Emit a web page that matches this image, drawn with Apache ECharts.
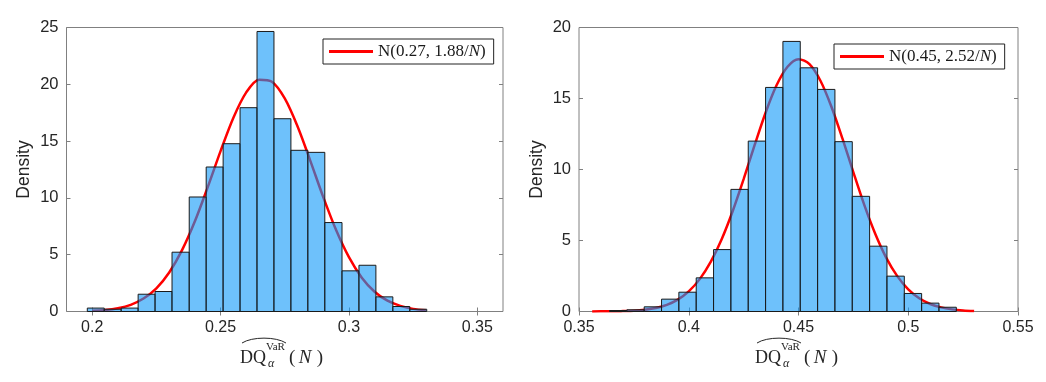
<!DOCTYPE html>
<html>
<head>
<meta charset="utf-8">
<script src="https://cdn.jsdelivr.net/npm/echarts@6/dist/echarts.min.js"></script>
<style>
  html, body { margin: 0; padding: 0; background: #fff; }
  #chart { width: 1046px; height: 382px; }
</style>
</head>
<body>
<div id="chart"></div>
<script>
// ---- left panel: N(0.27, 1.88/N) ----
const leftBinEdges = [0.1981, 0.2047, 0.2113, 0.2179, 0.2245, 0.2311, 0.2378, 0.2444, 0.2510, 0.2576,
  0.2642, 0.2708, 0.2774, 0.2840, 0.2906, 0.2973, 0.3039, 0.3105, 0.3171, 0.3237, 0.3303]
const leftDensity = [0.30, 0.20, 0.30, 1.52, 1.76, 5.22, 10.08, 12.72, 14.77, 17.94,
  24.65, 16.97, 14.19, 14.01, 7.83, 3.58, 4.07, 1.29, 0.44, 0.20]
const leftCurveX = [0.200, 0.205, 0.210, 0.215, 0.220, 0.225, 0.230, 0.235, 0.240, 0.245, 0.250, 0.255, 0.260, 0.265,
  0.270, 0.275, 0.280, 0.285, 0.290, 0.295, 0.300, 0.305, 0.310, 0.315, 0.320, 0.325, 0.330]
const leftCurveY = [0.06, 0.13, 0.29, 0.59, 1.14, 2.04, 3.43, 5.40, 7.94, 10.95, 14.12, 17.06, 19.29, 20.41,
  20.23, 18.76, 16.29, 13.24, 10.07, 7.17, 4.78, 2.98, 1.74, 0.95, 0.49, 0.23, 0.10]
const leftXTicks = [0.2, 0.25, 0.3, 0.35]
const leftName = 'N(0.27, 1.88/N)'

// ---- right panel: N(0.45, 2.52/N) ----
const rightBinEdges = [0.3639, 0.3718, 0.3797, 0.3876, 0.3955, 0.4034, 0.4113, 0.4192, 0.4271, 0.4350,
  0.4429, 0.4508, 0.4587, 0.4666, 0.4745, 0.4824, 0.4903, 0.4982, 0.5061, 0.5140, 0.5219]
const rightDensity = [0.07, 0.12, 0.33, 0.87, 1.36, 2.37, 4.36, 8.60, 12.00, 15.78,
  19.02, 17.16, 15.64, 11.96, 8.11, 4.60, 2.49, 1.27, 0.59, 0.30]
const rightCurveX = [0.356, 0.360, 0.365, 0.370, 0.375, 0.380, 0.385, 0.390, 0.395, 0.400, 0.405, 0.410, 0.415,
  0.420, 0.425, 0.430, 0.435, 0.440, 0.445, 0.450, 0.455, 0.460, 0.465, 0.470, 0.475, 0.480, 0.485, 0.490,
  0.495, 0.500, 0.505, 0.510, 0.515, 0.520, 0.525, 0.530]
const rightCurveY = [0.00, 0.01, 0.01, 0.03, 0.06, 0.13, 0.25, 0.47, 0.84, 1.42, 2.28, 3.49, 5.09,
  7.06, 9.32, 11.71, 14.00, 15.93, 17.24, 17.77, 17.42, 16.25, 14.42, 12.19, 9.80, 7.49, 5.46, 3.78,
  2.49, 1.56, 0.93, 0.53, 0.29, 0.15, 0.07, 0.03]
const rightXTicks = [0.35, 0.4, 0.45, 0.5, 0.55]
const rightName = 'N(0.45, 2.52/N)'

const yTicksLeft = [0, 5, 10, 15, 20, 25]
const yTicksRight = [0, 5, 10, 15, 20]

const boxColor = '#808080'
const textColor = '#262626'
const sansFont = '"Liberation Sans", Arial, sans-serif'
const serifFont = '"Liberation Serif", "Times New Roman", serif'

const chart = echarts.init(document.getElementById('chart'))

function histData(edges, dens) {
  return dens.map((d, i) => [edges[i], edges[i + 1], d])
}

function renderBin(params, api) {
  const p0 = api.coord([api.value(0), api.value(2)])
  const p1 = api.coord([api.value(1), 0])
  return {
    type: 'rect',
    shape: { x: p0[0], y: p0[1], width: p1[0] - p0[0], height: p1[1] - p0[1] },
    style: { fill: 'rgba(13,152,248,0.6)', stroke: '#1a1a1a', lineWidth: 1 },
  }
}

function xAxes(grid, min, max, ticks) {
  return [
    {
      gridIndex: grid, type: 'value', min, max, position: 'bottom',
      axisLine: { show: false }, splitLine: { show: false },
      axisTick: { inside: true, length: 4, lineStyle: { color: boxColor }, customValues: ticks },
      axisLabel: {
        customValues: ticks, margin: 8, fontSize: 16, color: textColor, fontFamily: sansFont,
        formatter: (v) => String(+v.toFixed(2)),
      },
    },
    {
      gridIndex: grid, type: 'value', min, max, position: 'top',
      axisLine: { show: false }, splitLine: { show: false }, axisLabel: { show: false },
      axisTick: { inside: true, length: 4, lineStyle: { color: boxColor }, customValues: ticks },
    },
  ]
}

function yAxes(grid, max, ticks) {
  return [
    {
      gridIndex: grid, type: 'value', min: 0, max, interval: 5, position: 'left',
      name: 'Density', nameLocation: 'middle', nameGap: 33,
      nameTextStyle: { fontSize: 17.5, color: textColor, fontFamily: sansFont },
      axisLine: { show: false }, splitLine: { show: false },
      axisTick: { inside: true, length: 4, lineStyle: { color: boxColor }, customValues: ticks },
      axisLabel: { customValues: ticks, margin: 8, fontSize: 16.5, color: textColor, fontFamily: sansFont },
    },
    {
      gridIndex: grid, type: 'value', min: 0, max, interval: 5, position: 'right',
      axisLine: { show: false }, splitLine: { show: false }, axisLabel: { show: false },
      axisTick: { inside: true, length: 4, lineStyle: { color: boxColor }, customValues: ticks },
    },
  ]
}

function legendFor(name, left, top) {
  return {
    data: [name], left, top, orient: 'vertical',
    icon: 'rect', itemWidth: 44, itemHeight: 3,
    padding: [4, 8, 4, 6], itemGap: 0,
    borderColor: '#222', borderWidth: 1, backgroundColor: '#fff',
    selectedMode: false,
    formatter: (n) => n.replace(/\/N\)$/, '/{i|N})'),
    textStyle: {
      fontSize: 17, fontFamily: serifFont, color: '#1a1a1a',
      rich: { i: { fontSize: 17, fontFamily: serifFont, fontStyle: 'italic', color: '#1a1a1a' } },
    },
  }
}

// x-axis title: hat(DQ^VaR)_alpha (N), placed with plain text pieces
function axisTitle(x0) {
  const c = '#262626'
  return [
    { type: 'text', x: x0, y: 358, style: { text: 'DQ', fontSize: 18, fontFamily: serifFont, fill: c, verticalAlign: 'middle' } },
    { type: 'text', x: x0 + 26, y: 347, style: { text: 'VaR', fontSize: 11, fontFamily: serifFont, fill: c, verticalAlign: 'middle' } },
    { type: 'text', x: x0 + 28, y: 364, style: { text: 'α', fontSize: 12, fontFamily: serifFont, fontStyle: 'italic', fill: c, verticalAlign: 'middle' } },
    { type: 'text', x: x0 + 49, y: 358, style: { text: '(', fontSize: 19, fontFamily: serifFont, fill: c, verticalAlign: 'middle' } },
    { type: 'text', x: x0 + 65, y: 358, style: { text: 'N', fontSize: 19, fontFamily: serifFont, fontStyle: 'italic', fill: c, align: 'center', verticalAlign: 'middle' } },
    { type: 'text', x: x0 + 83, y: 358, style: { text: ')', fontSize: 19, fontFamily: serifFont, fill: c, align: 'right', verticalAlign: 'middle' } },
    {
      type: 'bezierCurve',
      shape: { x1: x0 + 2, y1: 343, cpx1: x0 + 12, cpy1: 336.5, cpx2: x0 + 36, cpy2: 336.5, x2: x0 + 46, y2: 343 },
      style: { stroke: c, lineWidth: 1, fill: null },
    },
  ]
}

const option = {
  animation: false,
  backgroundColor: '#fff',
  grid: [
    { left: 66.5, top: 27.5, width: 436.5, height: 284, show: true, borderColor: boxColor, borderWidth: 1, backgroundColor: 'transparent' },
    { left: 579, top: 27.5, width: 439, height: 284, show: true, borderColor: boxColor, borderWidth: 1, backgroundColor: 'transparent' },
  ],
  xAxis: [...xAxes(0, 0.19, 0.36, leftXTicks), ...xAxes(1, 0.35, 0.55, rightXTicks)],
  yAxis: [...yAxes(0, 25, yTicksLeft), ...yAxes(1, 20, yTicksRight)],
  legend: [legendFor(leftName, 323, 39), legendFor(rightName, 834, 44)],
  graphic: [...axisTitle(240), ...axisTitle(755)],
  series: [
    {
      name: 'leftHist', type: 'custom', xAxisIndex: 0, yAxisIndex: 0, z: 3,
      renderItem: renderBin, encode: { x: [0, 1], y: 2 },
      data: histData(leftBinEdges, leftDensity),
    },
    {
      name: leftName, type: 'line', xAxisIndex: 0, yAxisIndex: 0, z: 2,
      smooth: 0.3, showSymbol: false, symbol: 'none',
      itemStyle: { color: '#ff0000' }, lineStyle: { color: '#ff0000', width: 2.5 },
      data: leftCurveX.map((x, i) => [x, leftCurveY[i]]),
    },
    {
      name: 'rightHist', type: 'custom', xAxisIndex: 2, yAxisIndex: 2, z: 3,
      renderItem: renderBin, encode: { x: [0, 1], y: 2 },
      data: histData(rightBinEdges, rightDensity),
    },
    {
      name: rightName, type: 'line', xAxisIndex: 2, yAxisIndex: 2, z: 2,
      smooth: 0.3, showSymbol: false, symbol: 'none',
      itemStyle: { color: '#ff0000' }, lineStyle: { color: '#ff0000', width: 2.5 },
      data: rightCurveX.map((x, i) => [x, rightCurveY[i]]),
    },
  ],
}

chart.setOption(option)
</script>
</body>
</html>
